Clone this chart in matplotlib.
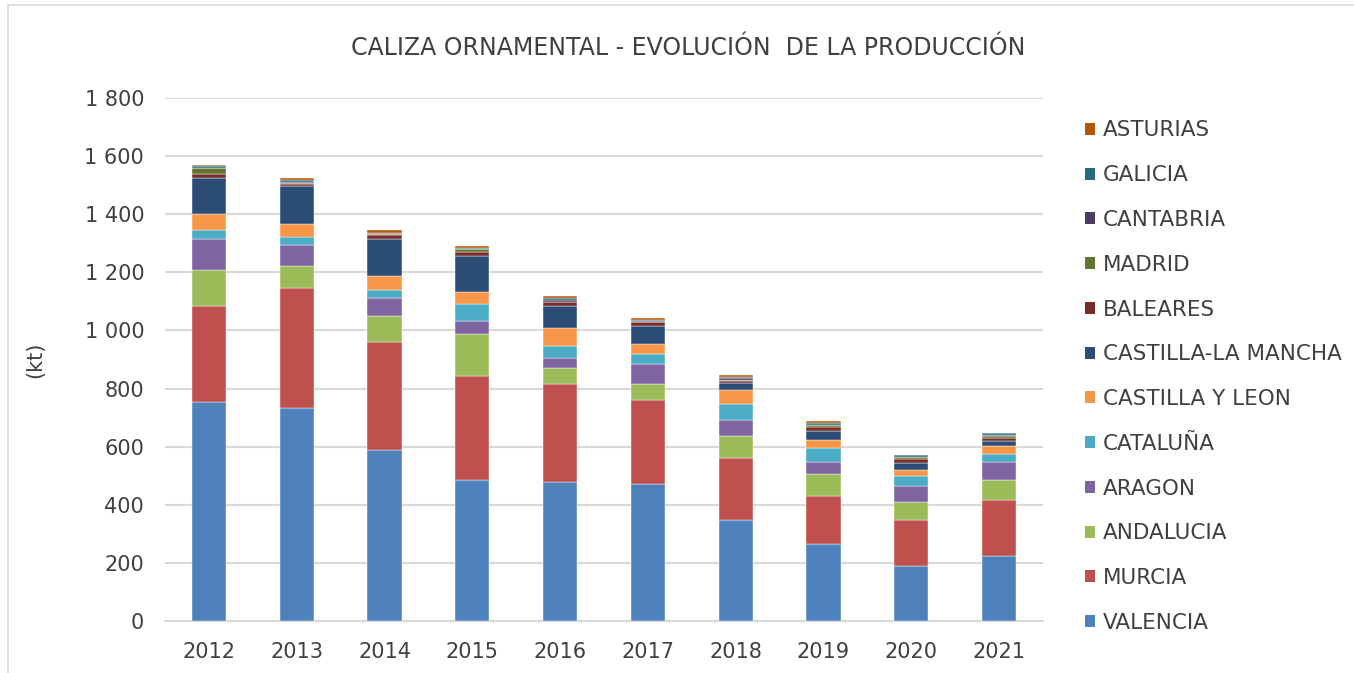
import matplotlib
matplotlib.use("Agg")
import matplotlib.pyplot as plt
from matplotlib.patches import Patch
from matplotlib.lines import Line2D
import numpy as np

plt.rcParams['font.family'] = ['DejaVu Sans']

years = ["2012", "2013", "2014", "2015", "2016", "2017", "2018", "2019", "2020", "2021"]

valencia  = [753, 733, 588, 485, 478, 471, 347, 264, 188, 222]
murcia    = [331, 413, 372, 358, 337, 289, 213, 165, 158, 193]
andalucia = [123, 75, 89, 144, 55, 55, 77, 77, 63, 71]
aragon    = [109, 74, 62, 47, 35, 69, 55, 40, 54, 60]
cataluna  = [28, 28, 28, 57, 41, 34, 55, 49, 35, 28]
cyl       = [56, 42, 47, 40, 62, 35, 48, 27, 22, 28]
clm       = [124, 132, 128, 125, 76, 62, 24, 32, 23, 17]
baleares  = [14, 7, 14, 14, 14, 14, 7, 12, 14, 10]
madrid    = [20, 4, 3, 10, 1, 1, 2, 7, 7, 7]
cantabria = [2, 3, 3, 1, 5, 1, 7, 3, 1, 3]
galicia   = [5, 7, 3, 3, 7, 6, 6, 5, 6, 7]
asturias  = [4, 6, 7, 6, 7, 6, 4, 7, 0, 0]

series_names = ["VALENCIA", "MURCIA", "ANDALUCIA", "ARAGON", "CATALUÑA",
                "CASTILLA Y LEON", "CASTILLA-LA MANCHA", "BALEARES", "MADRID",
                "CANTABRIA", "GALICIA", "ASTURIAS"]
series_values = [valencia, murcia, andalucia, aragon, cataluna, cyl, clm,
                 baleares, madrid, cantabria, galicia, asturias]
colors = ["#4F81BD", "#C0504D", "#9BBB59", "#8064A2", "#4BACC6", "#F79646",
          "#2C4D75", "#772C2A", "#5F7530", "#4D3B62", "#276A7C", "#B65708"]

yticks = [0, 200, 400, 600, 800, 1000, 1200, 1400, 1600, 1800]
ytick_labels = ["0", "200", "400", "600", "800", "1 000", "1 200", "1 400", "1 600", "1 800"]

TXT = "#404040"

fig = plt.figure(figsize=(13.54, 6.73), dpi=100)
ax = fig.add_axes([165/1354, 1-621/673, (1043-165)/1354, (621-98)/673])

x = np.arange(len(years))
bottom = np.zeros(len(years))
for name, vals, col in zip(series_names, series_values, colors):
    ax.bar(x, vals, width=0.39, bottom=bottom, color=col, label=name,
           edgecolor="white", linewidth=0.3, zorder=3)
    bottom += np.array(vals)

ax.set_xlim(-0.5, len(years) - 0.5)
ax.set_ylim(0, 1800)
ax.set_yticks(yticks)
ax.set_yticklabels(ytick_labels)
ax.set_xticks(x)
ax.set_xticklabels(years)
ax.tick_params(axis='both', length=0, labelsize=15, colors=TXT)
ax.tick_params(axis='y', pad=15)
ax.tick_params(axis='x', pad=15)
ax.grid(axis='y', color="#D9D9D9", linewidth=1.5, zorder=0)
for s in ["top", "right", "left"]:
    ax.spines[s].set_visible(False)
ax.spines["bottom"].set_color("#D9D9D9")
ax.spines["bottom"].set_linewidth(1.5)
ax.set_axisbelow(True)

ax.set_ylabel("(kt)", fontsize=15, color=TXT)
ax.yaxis.set_label_coords((45-165)/878, 0.5)

fig.text(0.5085, 1-48/673, "CALIZA ORNAMENTAL - EVOLUCIÓN  DE LA PRODUCCIÓN",
         ha="center", va="center", fontsize=17, color=TXT)

handles = [Patch(facecolor=c, edgecolor="none") for c in colors][::-1]
labels = series_names[::-1]
leg = fig.legend(handles, labels, loc="upper left",
                 bbox_to_anchor=(1085/1354, 1-120.5/673), frameon=False,
                 fontsize=15.5, labelcolor=TXT, handlelength=0.47,
                 handleheight=0.47, handletextpad=0.37, labelspacing=1.15,
                 borderaxespad=0, borderpad=0)

# chart area border
fig.add_artist(Line2D([8/1354, 8/1354], [0, 1-5/673], transform=fig.transFigure,
                      color="#D9D9D9", linewidth=1.2))
fig.add_artist(Line2D([8/1354, 1], [1-5/673, 1-5/673], transform=fig.transFigure,
                      color="#D9D9D9", linewidth=1.2))

fig.savefig("out.png", dpi=100)
